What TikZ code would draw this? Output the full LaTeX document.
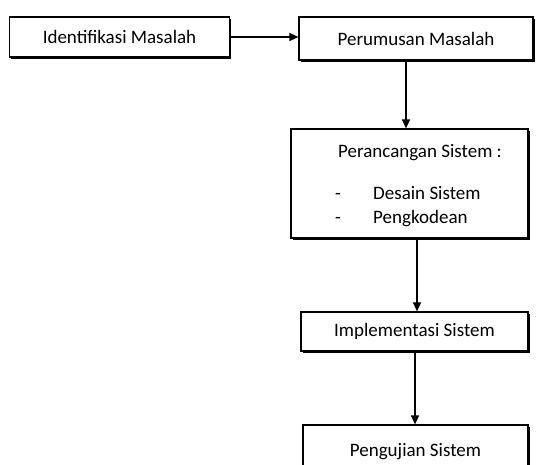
\documentclass[tikz,border=0pt]{standalone}
\usepackage{fontspec}
\setmainfont{Carlito}
\usetikzlibrary{positioning}
\usetikzlibrary{arrows.meta}
\usetikzlibrary{shadows}

\begin{document}
\begin{tikzpicture}
		[x=1pt, y=1pt,
		box/.style={rectangle, draw=black, line width=1.2pt, fill=white, font=\fontsize{19}{22}\selectfont,
			drop shadow={shadow xshift=1.6pt, shadow yshift=-1.6pt, fill=black, opacity=1}},
		item/.style={font=\fontsize{19}{22}\selectfont, inner sep=0pt, anchor=base west},
		flow/.style={-{Triangle[length=9pt, width=8pt]}, line width=1.4pt}]
		\useasboundingbox (0,0) rectangle (537,464);
		\node[box, minimum width=220, minimum height=40] (ident) at (119.5,427) {Identifikasi Masalah};
		\node[box, minimum width=234, minimum height=43] (rumus) at (416,425.5) {Perumusan Masalah};
		\node[box, minimum width=237, minimum height=109] (rancang) at (409.5,280.5) {};
		\node[box, minimum width=227, minimum height=39] (implem) at (414.5,132.5) {Implementasi Sistem};
		\node[box, minimum width=225, minimum height=50, text depth=0pt] (uji) at (415.5,14) {Pengujian Sistem};

		% isi kotak perancangan
		\node[font=\fontsize{19}{22}\selectfont] (judul) at (420,311) {Perancangan Sistem :};
		\node[item] (s1) at (335,265) {-};
		\node[item] (d1) at (373,265) {Desain Sistem};
		\node[item] (s2) at (335,241) {-};
		\node[item] (d2) at (373,241) {Pengkodean};

		\draw[flow] (ident.east) -- (ident.east -| rumus.west);
		\draw[flow] ([xshift=-10pt]rumus.south) -- ([xshift=-3.5pt]rancang.north);
		\draw[flow] ([xshift=7.5pt]rancang.south) -- ([xshift=2.5pt]implem.north);
		\draw[flow] ([xshift=0.5pt]implem.south) -- ([xshift=-0.5pt]uji.north);
	\end{tikzpicture}
\end{document}
